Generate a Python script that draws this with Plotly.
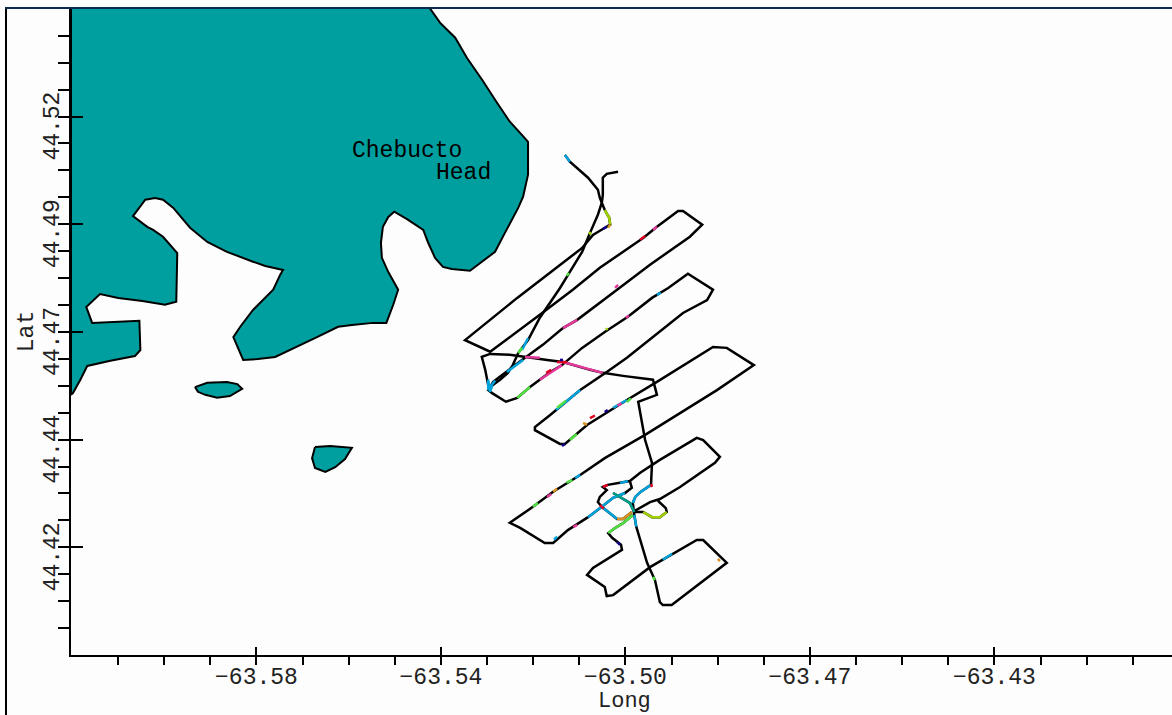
import plotly.graph_objects as go

FONT = "Liberation Mono"

LAND_LON = [-63.6152,-63.5423,-63.5402,-63.5371,-63.5347,-63.5316,-63.5286,-63.5260,-63.5235,-63.5223,-63.5223,-63.5233,-63.5243,-63.5260,-63.5270,-63.5290,-63.5311,-63.5341,-63.5378,-63.5396,-63.5412,-63.5426,-63.5436,-63.5469,-63.5495,-63.5507,-63.5518,-63.5522,-63.5520,-63.5507,-63.5487,-63.5497,-63.5511,-63.5538,-63.5581,-63.5609,-63.5652,-63.5690,-63.5737,-63.5772,-63.5802,-63.5822,-63.5808,-63.5782,-63.5741,-63.5727,-63.5721,-63.5757,-63.5782,-63.5835,-63.5875,-63.5910,-63.5944,-63.5965,-63.5981,-63.6001,-63.6026,-63.5997,-63.5985,-63.5965,-63.5936,-63.5938,-63.5961,-63.6007,-63.6056,-63.6093,-63.6121,-63.6109,-63.6062,-63.6013,-63.6011,-63.6022,-63.6072,-63.6119,-63.6133,-63.6148,-63.6152,-63.6152]
LAND_LAT = [44.5402,44.5402,44.5368,44.5333,44.5286,44.5235,44.5182,44.5138,44.5107,44.5091,44.5015,44.4964,44.4938,44.4903,44.4880,44.4836,44.4817,44.4792,44.4796,44.4801,44.4822,44.4857,44.4887,44.4912,44.4929,44.4917,44.4894,44.4857,44.4822,44.4789,44.4748,44.4713,44.4671,44.4671,44.4666,44.4662,44.4638,44.4618,44.4592,44.4587,44.4585,44.4638,44.4662,44.4701,44.4748,44.4782,44.4794,44.4803,44.4813,44.4836,44.4859,44.4892,44.4938,44.4957,44.4961,44.4957,44.4919,44.4894,44.4887,44.4871,44.4833,44.4720,44.4713,44.4722,44.4729,44.4738,44.4708,44.4671,44.4673,44.4676,44.4608,44.4594,44.4583,44.4571,44.4539,44.4508,44.4504,44.5402]
ISLAND1_LON = [-63.5900,-63.5875,-63.5835,-63.5814,-63.5804,-63.5829,-63.5855,-63.5879,-63.5894,-63.5900]
ISLAND1_LAT = [44.4522,44.4532,44.4534,44.4529,44.4518,44.4501,44.4497,44.4504,44.4511,44.4522]
ISLAND2_LON = [-63.5656,-63.5625,-63.5581,-63.5595,-63.5615,-63.5635,-63.5656,-63.5662,-63.5656]
ISLAND2_LAT = [44.4383,44.4385,44.4381,44.4355,44.4336,44.4325,44.4334,44.4357,44.4383]

TRACK_LON = [-63.5148,-63.5138,-63.5101,-63.5081,-63.5077,-63.5071,-63.5067,-63.5058,-63.5056,-63.5071,-63.5091,-63.5113,-63.5164,-63.5245,-63.5351,-63.5300,-63.5199,-63.5132,-63.5077,-63.4989,-63.4961,-63.4918,-63.4908,-63.4869,-63.4894,-63.4975,-63.5042,-63.5123,-63.5152,-63.5193,-63.5254,-63.5294,-63.5300,-63.5304,-63.5296,-63.5274,-63.5284,-63.5268,-63.5245,-63.5219,-63.5178,-63.5154,-63.5113,-63.5067,-63.5020,-63.4971,-63.4938,-63.4898,-63.4847,-63.4859,-63.4908,-63.4969,-63.5022,-63.5063,-63.5117,-63.5178,-63.5209,-63.5209,-63.5158,-63.5148,-63.5103,-63.5022,-63.4961,-63.4847,-63.4819,-63.4764,-63.4839,-63.4985,-63.5067,-63.5117,-63.5172,-63.5213,-63.5260,-63.5239,-63.5189,-63.5172,-63.5142,-63.5101,-63.5073,-63.5081,-63.5077,-63.5063,-63.5071,-63.5061,-63.5040,-63.5016,-63.4995,-63.4955,-63.4880,-63.4867,-63.4833,-63.4843,-63.4914,-63.4955,-63.4975,-63.4995,-63.5007,None,
 -63.5007,-63.4989,-63.4971,-63.4955,-63.4941,-63.4943,-63.4959,None,
 -63.5073,-63.5050,-63.5026,-63.5012,-63.5016,None,
 -63.5050,-63.5016,-63.5007,None,
 -63.5073,-63.5042,-63.5030,-63.5012,None,
 -63.5010,-63.5030,-63.5046,-63.5060,-63.5052,-63.5034,-63.5032,-63.5091,-63.5103,-63.5067,-63.5063,-63.5050,-63.4975,-63.4880,-63.4867,-63.4819,-63.4931,-63.4949,-63.4955,-63.4965,-63.4981,-63.4995,-63.5003,-63.5007,-63.5010,-63.5005,-63.4995,-63.4973,-63.4971,-63.4985,-63.4991,-63.4999,-63.4961,-63.4969,-63.5030,-63.5071,-63.5097,-63.5152,-63.5184,-63.5229,-63.5260,-63.5300,-63.5317,-63.5310,-63.5304,-63.5300,None,
 -63.5300,-63.5280,-63.5264,-63.5254,-63.5243,-63.5223,-63.5199,-63.5178,-63.5158,-63.5142,-63.5113,-63.5097,-63.5081,-63.5073,-63.5071,-63.5071,-63.5063,-63.5040]
TRACK_LAT = [44.5061,44.5045,44.5008,44.4980,44.4961,44.4945,44.4933,44.4915,44.4899,44.4889,44.4875,44.4845,44.4801,44.4729,44.4631,44.4604,44.4690,44.4748,44.4799,44.4868,44.4894,44.4931,44.4931,44.4899,44.4871,44.4806,44.4748,44.4678,44.4659,44.4620,44.4569,44.4534,44.4522,44.4515,44.4508,44.4492,44.4499,44.4488,44.4497,44.4522,44.4557,44.4573,44.4613,44.4650,44.4685,44.4729,44.4752,44.4785,44.4748,44.4724,44.4694,44.4638,44.4590,44.4557,44.4515,44.4457,44.4429,44.4422,44.4390,44.4390,44.4434,44.4492,44.4534,44.4615,44.4613,44.4573,44.4515,44.4411,44.4357,44.4318,44.4279,44.4244,44.4207,44.4195,44.4160,44.4160,44.4190,44.4220,44.4244,44.4255,44.4267,44.4283,44.4290,44.4295,44.4299,44.4304,44.4323,44.4353,44.4404,44.4399,44.4360,44.4346,44.4290,44.4262,44.4255,44.4241,44.4234,None,
 44.4232,44.4232,44.4220,44.4220,44.4232,44.4241,44.4258,None,
 44.4244,44.4265,44.4276,44.4288,44.4304,None,
 44.4276,44.4253,44.4232,None,
 44.4244,44.4216,44.4216,44.4232,None,
 44.4225,44.4206,44.4195,44.4183,44.4172,44.4156,44.4144,44.4102,44.4086,44.4058,44.4037,44.4039,44.4104,44.4167,44.4167,44.4114,44.4016,44.4016,44.4023,44.4074,44.4114,44.4167,44.4198,44.4225,44.4253,44.4267,44.4278,44.4295,44.4346,44.4399,44.4439,44.4488,44.4504,44.4539,44.4548,44.4555,44.4562,44.4580,44.4585,44.4592,44.4597,44.4599,44.4592,44.4562,44.4527,44.4522,None,
 44.4522,44.4539,44.4555,44.4573,44.4601,44.4631,44.4683,44.4717,44.4752,44.4782,44.4836,44.4880,44.4922,44.4950,44.4968,44.5008,44.5017,44.5022]

CYAN_LON = [-63.5148,-63.5138,None,-63.5290,-63.5304,-63.5304,-63.5300,-63.5296,None,-63.5166,-63.5117,None,-63.5266,-63.5233,None,-63.5050,-63.5022,None,-63.5235,-63.5223,None,-63.5101,-63.5073,-63.5050,-63.5026,None,-63.5036,-63.5020,None,-63.5010,-63.5005,-63.4995,-63.4973,None,-63.5073,-63.5042,None,-63.4949,-63.4930,None,-63.5127,-63.5117,None,-63.5170,-63.5164,None,-63.5007,-63.5003,None,-63.4961,-63.4953]
CYAN_LAT = [44.5061,44.5045,None,44.4537,44.4515,44.4539,44.4511,44.4525,None,44.4469,44.4515,None,44.4557,44.4585,None,44.4474,44.4492,None,44.4608,44.4636,None,44.4220,44.4244,44.4265,44.4276,None,44.4299,44.4304,None,44.4253,44.4267,44.4278,44.4295,None,44.4244,44.4216,None,44.4121,44.4135,None,44.4311,44.4318,None,44.4168,44.4175,None,44.4225,44.4198,None,44.4736,44.4741]
TEAL_LON = [-63.5050,-63.5016,-63.5007]
TEAL_LAT = [44.4276,44.4253,44.4232]
GREEN_LON = [-63.5010,-63.5030,-63.5046,-63.5060,None,-63.5164,-63.5146,None,-63.5245,-63.5219,None,-63.5138,-63.5124,None,-63.5145,-63.5133,None,-63.5213,-63.5203,None,-63.4969,-63.4965,None,-63.5144,-63.5140,None,-63.5243,-63.5235,None,-63.5022,-63.5014]
GREEN_LAT = [44.4225,44.4206,44.4195,44.4183,None,44.4474,44.4490,None,44.4497,44.4522,None,44.4399,44.4413,None,44.4300,44.4306,None,44.4244,44.4253,None,44.4081,44.4074,None,44.4780,44.4787,None,44.4601,44.4613,None,44.4487,44.4496]
LIME_LON = [-63.5067,-63.5058,-63.5056,None,-63.4989,-63.4971,-63.4955,-63.4941,None,-63.5099,-63.5095,None,-63.5065,-63.5061]
LIME_LAT = [44.4933,44.4915,44.4899,None,44.4232,44.4220,44.4220,44.4232,None,44.4882,44.4876,None,44.4655,44.4658]
PINK_LON = [-63.5152,-63.5097,-63.5071,None,-63.5229,-63.5199,None,-63.5199,-63.5154,None,-63.4969,-63.4961,None,-63.5046,-63.5040,None,-63.5152,-63.5123,None,-63.5184,-63.5176,None,-63.5131,-63.5123,None,-63.5024,-63.5018,None,-63.5041,-63.5033]
PINK_LAT = [44.4580,44.4562,44.4555,None,44.4592,44.4590,None,44.4539,44.4573,None,44.4887,44.4894,None,44.4752,44.4759,None,44.4659,44.4678,None,44.4267,44.4274,None,44.4197,44.4202,None,44.4683,44.4688,None,44.4479,44.4484]
RED_LON = [-63.5164,-63.5144,None,-63.5186,-63.5176,None,-63.4995,-63.4985,None,-63.5071,-63.5061,None,-63.5077,-63.5069,None,-63.4973,-63.4971,None,-63.5097,-63.5087]
RED_LAT = [44.4580,44.4580,None,44.4555,44.4562,None,44.4864,44.4873,None,44.4290,44.4295,None,44.4248,44.4240,None,44.4297,44.4290,None,44.4450,44.4456]
NAVY_LON = [-63.5071,-63.5063,None,-63.5158,-63.5152,None,-63.5067,-63.5061,None,-63.5154,-63.5148,None,-63.5042,-63.5036]
NAVY_LAT = [44.4889,44.4894,None,44.4585,44.4585,None,44.4464,44.4469,None,44.4385,44.4390,None,44.4162,44.4156]
ORANGE_LON = [-63.5056,-63.5060,None,-63.5042,-63.5030,-63.5012,None,-63.5111,-63.5103,None,-63.4837,-63.4833,None,-63.5172,-63.5164]
ORANGE_LAT = [44.4899,44.4892,None,44.4216,44.4216,44.4232,None,44.4439,44.4434,None,44.4123,44.4118,None,44.4279,44.4286]

X_TICKS = [-63.605625,-63.59625,-63.586875,-63.5775,-63.568125,-63.55875,-63.549375,-63.54,-63.530625,-63.52125,-63.511875,-63.5025,-63.493125,-63.48375,-63.474375,-63.465,-63.455625,-63.44625,-63.436875,-63.4275,-63.418125,-63.40875,-63.399375]
X_LABELS = ["","","","\u221263.58","","","","\u221263.54","","","","\u221263.50","","","","\u221263.47","","","","\u221263.43","","",""]
X_MAJOR = [-63.5775,-63.54,-63.5025,-63.465,-63.4275]
Y_TICKS = [44.53375,44.5275,44.52125,44.515,44.50875,44.5025,44.49625,44.49,44.48375,44.4775,44.47125,44.465,44.45875,44.4525,44.44625,44.44,44.43375,44.4275,44.42125,44.415,44.40875,44.4025,44.39625]
Y_LABELS = ["","","","44.52","","","","44.49","","","","44.47","","","","44.44","","","","44.42","","",""]
Y_MAJOR = [44.515,44.49,44.465,44.44,44.415]

fig = go.Figure()
for lon, lat in [(LAND_LON, LAND_LAT), (ISLAND1_LON, ISLAND1_LAT), (ISLAND2_LON, ISLAND2_LAT)]:
    fig.add_trace(go.Scatter(x=lon, y=lat, mode="lines", fill="toself", fillcolor="#009f9f",
                             line=dict(color="#000000", width=2), hoverinfo="skip"))
fig.add_trace(go.Scatter(x=TRACK_LON, y=TRACK_LAT, mode="lines",
                         line=dict(color="#000000", width=2.5), hoverinfo="skip"))
for lon, lat, col in [(CYAN_LON, CYAN_LAT, "#00a4dc"), (TEAL_LON, TEAL_LAT, "#00a08c"),
                      (GREEN_LON, GREEN_LAT, "#50e040"), (LIME_LON, LIME_LAT, "#9fd000"),
                      (PINK_LON, PINK_LAT, "#e4389a"), (RED_LON, RED_LAT, "#e00020"),
                      (NAVY_LON, NAVY_LAT, "#100090"), (ORANGE_LON, ORANGE_LAT, "#d89020")]:
    fig.add_trace(go.Scatter(x=lon, y=lat, mode="lines", line=dict(color=col, width=2.5),
                             hoverinfo="skip"))

fig.add_annotation(x=-63.5470, y=44.5071, text="Chebucto", showarrow=False,
                   font=dict(family=FONT, size=23, color="#000000"), xanchor="center", yanchor="middle")
fig.add_annotation(x=-63.5354, y=44.5020, text="Head", showarrow=False,
                   font=dict(family=FONT, size=23, color="#000000"), xanchor="center", yanchor="middle")

W, H = 1172, 715
L, T, B = 71, 8, 60
pw = W - L
ph = H - T - B
fig.add_annotation(xref="paper", yref="paper", x=(624 - L) / pw, y=-(702 - (H - B)) / ph, text="Long",
                   showarrow=False, font=dict(family=FONT, size=22, color="#222222"),
                   xanchor="center", yanchor="middle", borderpad=0)
fig.add_shape(type="line", xref="paper", yref="paper", x0=(6 - L) / pw, x1=(6 - L) / pw,
              y0=-B / ph, y1=1, line=dict(color="#000000", width=2))
fig.add_shape(type="line", xref="paper", yref="paper", x0=(5 - L) / pw, x1=1, y0=1, y1=1,
              line=dict(color="#0a2a50", width=2))

fig.update_layout(
    width=W, height=H, margin=dict(l=L, r=0, t=T, b=B, pad=0), showlegend=False,
    margin_autoexpand=False,
    paper_bgcolor="#fdfdfd", plot_bgcolor="#fdfdfd", font=dict(family=FONT, color="#222222"),
    xaxis=dict(range=[-63.6152, -63.3914], showgrid=False, zeroline=False, showline=True,
               linecolor="#000000", linewidth=2, ticks="outside", ticklen=8, tickwidth=1.5,
               tickcolor="#000000", tickmode="array", tickvals=X_TICKS, ticktext=X_LABELS,
               tickfont=dict(family=FONT, size=23, color="#222222"), tickangle=0,
               ticklabelstandoff=-9, automargin=False,
               minor=dict(tickmode="array", tickvals=X_MAJOR, ticks="inside", ticklen=8,
                          tickwidth=1.5, tickcolor="#000000", showgrid=False)),
    yaxis=dict(range=[44.3900, 44.5402], showgrid=False, zeroline=False, showline=True,
               linecolor="#000000", linewidth=2, ticks="outside", ticklen=11, tickwidth=1.5,
               tickcolor="#000000", tickmode="array", tickvals=Y_TICKS, ticktext=Y_LABELS,
               tickfont=dict(family=FONT, size=23, color="#222222"), tickangle=-90,
               ticklabelstandoff=-10, ticklabelshift=13, automargin=False,
               minor=dict(tickmode="array", tickvals=Y_MAJOR, ticks="inside", ticklen=12,
                          tickwidth=1.5, tickcolor="#000000", showgrid=False),
               title=dict(text="Lat", font=dict(family=FONT, size=23, color="#222222"), standoff=0)),
)
fig.write_html("out.html", config=dict(displayModeBar=False),
               post_script="document.body.style.margin='0';document.body.style.overflow='hidden';")
